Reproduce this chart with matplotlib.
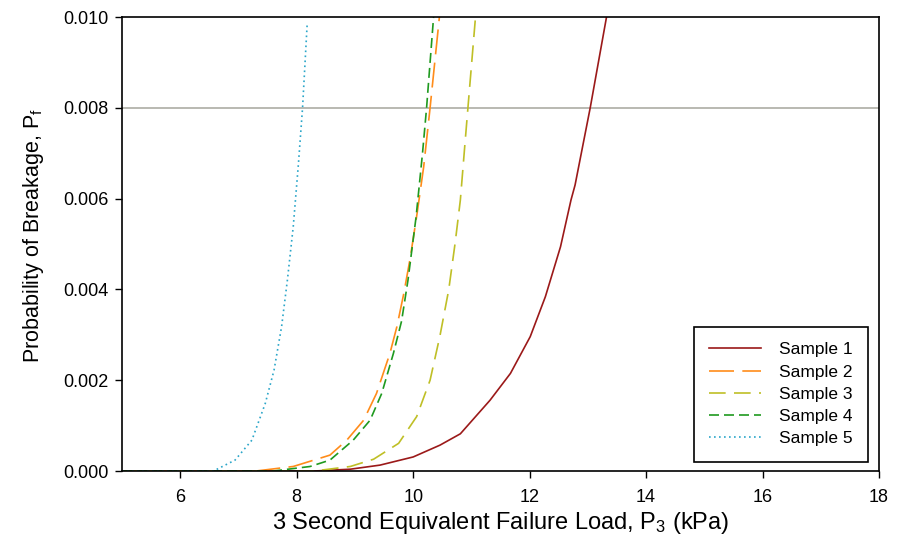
import matplotlib
matplotlib.use("Agg")
import matplotlib.pyplot as plt
from matplotlib.ticker import FormatStrFormatter

plt.rcParams['font.family'] = ['Liberation Sans', 'DejaVu Sans']
plt.rcParams['mathtext.default'] = 'regular'

# values
s1_x = [5.0, 8.3, 8.92, 9.43, 10.0, 10.46, 10.81, 11.32, 11.67, 12.01, 12.27, 12.53, 12.71, 12.78, 13.04, 13.32]
s1_y = [0, 0, 0.00004, 0.00013, 0.00031, 0.00057, 0.00082, 0.00156, 0.00215, 0.00296, 0.00384, 0.00494, 0.00597, 0.0063, 0.0080, 0.0100]

s2_x = [5.0, 7.3, 7.94, 8.57, 8.86, 9.15, 9.37, 9.60, 9.72, 9.84, 9.95, 10.07, 10.18, 10.29, 10.45]
s2_y = [0, 0, 0.0001, 0.00035, 0.00068, 0.00112, 0.00171, 0.00259, 0.00318, 0.00392, 0.0047, 0.0057, 0.0067, 0.0080, 0.0100]

s3_x = [5.0, 8.3, 8.92, 9.32, 9.75, 10.06, 10.29, 10.46, 10.61, 10.72, 10.81, 10.88, 10.94, 11.07]
s3_y = [0, 0, 0.0001, 0.00026, 0.00061, 0.0012, 0.0020, 0.00298, 0.00399, 0.00502, 0.00597, 0.00707, 0.0080, 0.0100]

s4_x = [5.0, 7.6, 8.23, 8.57, 8.97, 9.26, 9.46, 9.66, 9.80, 9.91, 10.05, 10.16, 10.23, 10.35]
s4_y = [0, 0, 0.0001, 0.00024, 0.00068, 0.00112, 0.00171, 0.00259, 0.0033, 0.0042, 0.0056, 0.0070, 0.0080, 0.0100]

s5_x = [5.0, 6.57, 6.94, 7.23, 7.46, 7.61, 7.74, 7.84, 7.94, 8.03, 8.10, 8.18]
s5_y = [0, 0, 0.00024, 0.00068, 0.00149, 0.00222, 0.00318, 0.00421, 0.00538, 0.00678, 0.0080, 0.00986]

target_pf = 0.008
x_ticks = [6, 8, 10, 12, 14, 16, 18]
y_ticks = [0.000, 0.002, 0.004, 0.006, 0.008, 0.010]

fig = plt.figure(figsize=(9, 5.5), dpi=100)
ax = fig.add_axes([0.1356, 0.1436, 0.8411, 0.8254])

ax.axhline(target_pf, color='#B3B3AB', lw=1.3, zorder=1)

lw = 1.2
ax.plot(s1_x, s1_y, color='#9B1919', lw=lw, label='Sample 1')
ax.plot(s2_x, s2_y, color='#FF8C1A', lw=lw, ls=(0, (15, 5)), label='Sample 2')
ax.plot(s3_x, s3_y, color='#BFBF26', lw=lw, ls=(0, (10, 5)), label='Sample 3')
ax.plot(s4_x, s4_y, color='#1F9A1F', lw=lw, ls=(0, (6, 3)), label='Sample 4')
ax.plot(s5_x, s5_y, color='#2BA6C9', lw=lw, ls=(0, (1, 2)), label='Sample 5')

ax.set_xlim(5, 18)
ax.set_ylim(0, 0.010)
ax.set_xticks(x_ticks)
ax.set_yticks(y_ticks)
ax.yaxis.set_major_formatter(FormatStrFormatter('%.3f'))
ax.tick_params(direction='out', length=5, width=1, labelsize=13, pad=5)
ax.tick_params(axis='x', pad=8)

for sp in ax.spines.values():
    sp.set_linewidth(1.2)

ax.set_xlabel('3 Second Equivalent Failure Load, P$_{3}$ (kPa)', fontsize=17)
ax.set_ylabel('Probability of Breakage, P$_{f}$', fontsize=15.5)
ax.xaxis.set_label_coords(0.5, -0.085)
ax.yaxis.set_label_coords(-0.101, 0.52)

leg = ax.legend(loc='lower right', bbox_to_anchor=(0.9855, 0.0198), borderaxespad=0,
                fontsize=12.5, handlelength=3.0, handletextpad=1.0, labelspacing=0.41,
                fancybox=False, framealpha=1, edgecolor='black', borderpad=0.9)
leg.get_frame().set_linewidth(1.2)

fig.savefig('out.png', dpi=100)
